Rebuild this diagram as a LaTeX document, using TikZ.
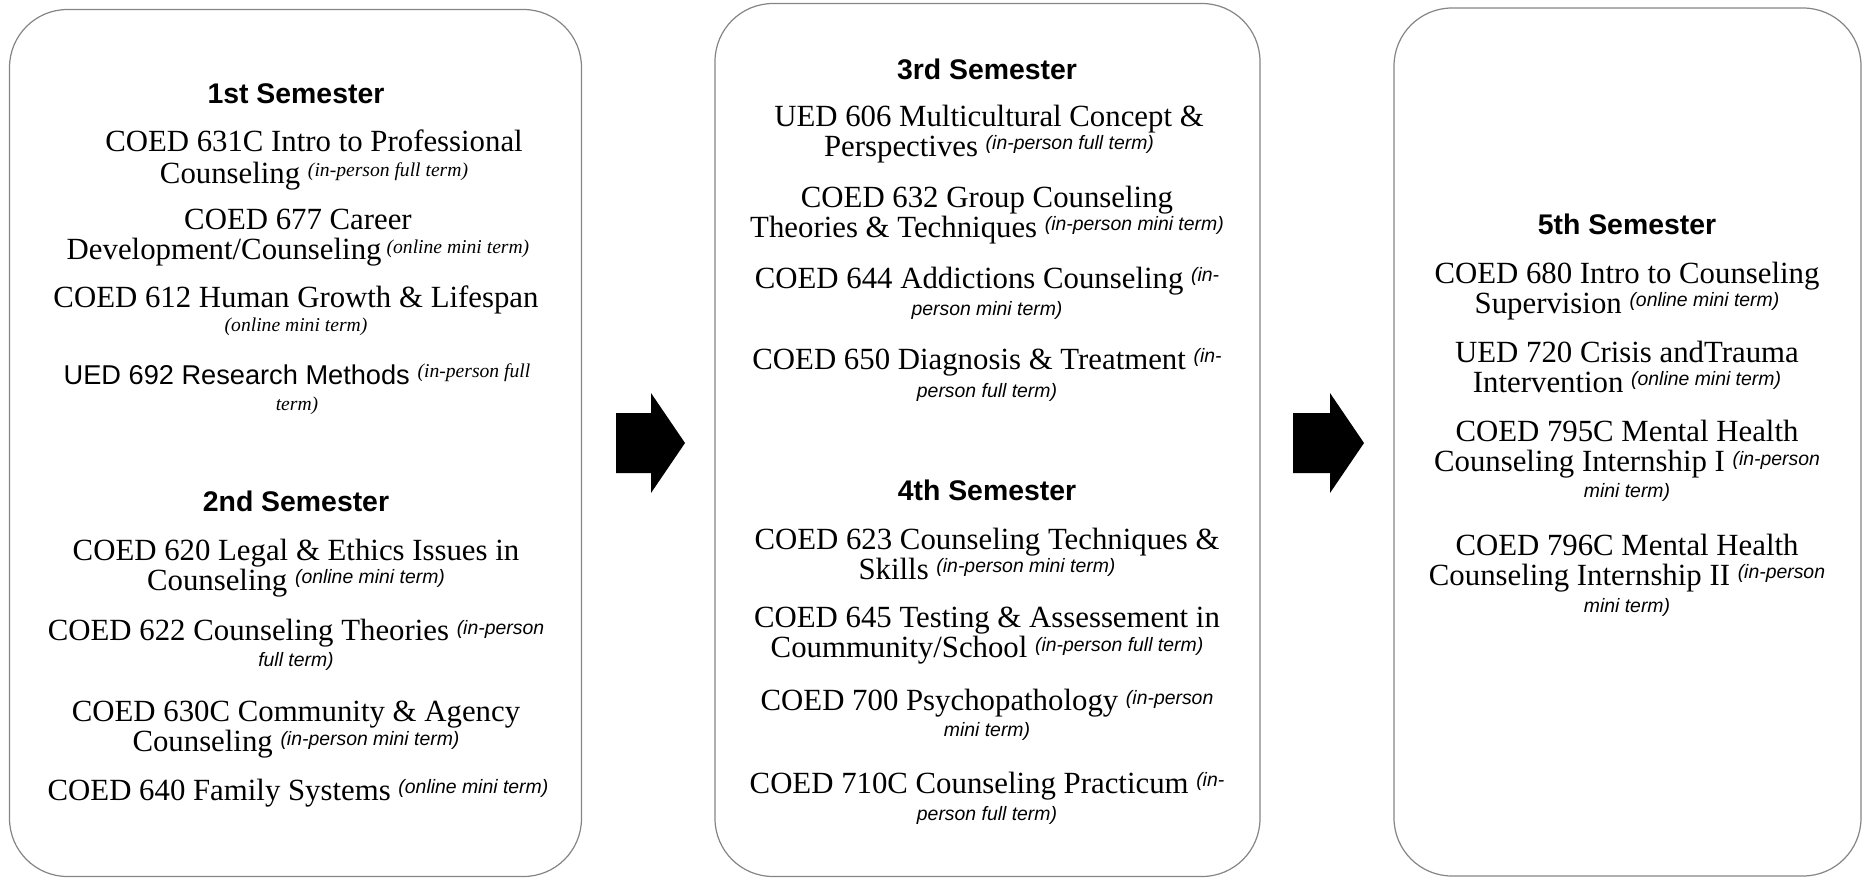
\documentclass[tikz,border=0pt]{standalone}
\usepackage{fontspec}
\usetikzlibrary{calc}
\setmainfont{Liberation Serif}
\setsansfont{Liberation Sans}
\newcommand{\coursefont}{\fontsize{15.4pt}{15pt}\selectfont}
\newcommand{\headfont}{\fontsize{14.2pt}{16pt}\selectfont\sffamily\bfseries}
\newcommand{\snf}{\fontsize{9.7pt}{11pt}\selectfont\sffamily\itshape}
\newcommand{\rnf}{\fontsize{9.8pt}{11pt}\selectfont\itshape}
\newcommand{\sn}[1]{\raisebox{3.3pt}{\snf #1}}
\newcommand{\rn}[1]{\raisebox{3.3pt}{\rnf #1}}
\newcommand{\snl}[1]{{\snf #1}}
\newcommand{\rnl}[1]{{\rnf #1}}
\begin{document}
\begin{tikzpicture}[x=0.5pt,y=-0.5pt,
  semibox/.style={draw=black!48, line width=0.6pt, rounded corners=29pt, fill=white, inner sep=0pt},
  course/.style={align=center, font=\coursefont, inner sep=0pt},
  head/.style={font=\headfont, inner sep=0pt},
  blockarrow/.style={fill=black, draw=none}]
\useasboundingbox (0,0) rectangle (1864,879);
% boxes
\node[semibox, minimum width=286pt, minimum height=433.5pt] (box1) at (295.5,443) {};
\node[semibox, minimum width=272.5pt, minimum height=436.5pt] (box2) at (987.5,440) {};
\node[semibox, minimum width=233.5pt, minimum height=434pt] (box3) at (1627.5,442) {};
% arrows
\coordinate (a1) at (651,443);
\coordinate (a2) at (1330,443);
\fill[blockarrow] ($(a1)+(-35,-30)$) -- ($(a1)+(0,-30)$) -- ($(a1)+(0,-50)$) -- ($(a1)+(34,0)$) -- ($(a1)+(0,50)$) -- ($(a1)+(0,30)$) -- ($(a1)+(-35,30)$) -- cycle;
\fill[blockarrow] ($(a2)+(-37,-30)$) -- ($(a2)+(0,-30)$) -- ($(a2)+(0,-50)$) -- ($(a2)+(34,0)$) -- ($(a2)+(0,50)$) -- ($(a2)+(0,30)$) -- ($(a2)+(-37,30)$) -- cycle;
% Box 1
\node[head] (h1) at (296,94) {1st Semester};
\node[course] (c1) at (314,160) {COED 631C Intro to Professional\\[1pt]Counseling \rn{(in-person full term)}};
\node[course] (c2) at (298,238) {COED 677 Career\\Development/Counseling\,\rn{(online mini term)}};
\node[course] (c3) at (296,311) {COED 612 Human Growth \& Lifespan\\[-3pt]\rnl{(online mini term)}};
\node[course] (c4) at (297,389) {{\sffamily\fontsize{13.6pt}{16pt}\selectfont UED 692 Research Methods} \rn{(in-person full}\\[-2pt]\rnl{term)}};
\node[head] (h2) at (296,501) {2nd Semester};
\node[course] (c5) at (296,568) {COED 620 Legal \& Ethics Issues in\\Counseling \sn{(online mini term)}};
\node[course] (c6) at (296,645) {COED 622 Counseling Theories \sn{(in-person}\\[-2pt]\snl{full term)}};
\node[course] (c7) at (296,730) {COED 630C Community \& Agency\\Counseling \sn{(in-person mini term)}};
\node[course] (c8) at (298,793) {COED 640 Family Systems \sn{(online mini term)}};
% Box 2
\node[head] (h3) at (987,69) {3rd Semester};
\node[course] (c9) at (989,134) {UED 606 Multicultural Concept \&\\Perspectives \sn{(in-person full term)}};
\node[course] (c10) at (987,215) {COED 632 Group Counseling\\Theories \& Techniques \sn{(in-person mini term)}};
\node[course] (c11) at (987,293) {COED 644 Addictions Counseling \sn{(in-}\\[-1.5pt]\snl{person mini term)}};
\node[course] (c12) at (987,375) {COED 650 Diagnosis \& Treatment \sn{(in-}\\[-1pt]\snl{person full term)}};
\node[head] (h4) at (987,490) {4th Semester};
\node[course] (c13) at (987,554) {COED 623 Counseling Techniques \&\\Skills \sn{(in-person mini term)}};
\node[course] (c14) at (987,636) {COED 645 Testing \& Assessement in\\Coummunity/School \sn{(in-person full term)}};
\node[course] (c15) at (987,715) {COED 700 Psychopathology \sn{(in-person}\\[-2pt]\snl{mini term)}};
\node[course] (c16) at (987,798) {COED 710C Counseling Practicum \sn{(in-}\\[-1.5pt]\snl{person full term)}};
% Box 3
\node[head] (h5) at (1627,224) {5th Semester};
\node[course] (c17) at (1627,291) {COED 680 Intro to Counseling\\Supervision \sn{(online mini term)}};
\node[course] (c18) at (1627,367) {UED 720 Crisis andTrauma\\Intervention \sn{(online mini term)}};
\node[course] (c19) at (1627,461) {COED 795C Mental Health\\Counseling Internship I \sn{(in-person}\\[-2pt]\snl{mini term)}};
\node[course] (c20) at (1627,575) {COED 796C Mental Health\\Counseling Internship II \sn{(in-person}\\[-1.5pt]\snl{mini term)}};
\end{tikzpicture}
\end{document}
